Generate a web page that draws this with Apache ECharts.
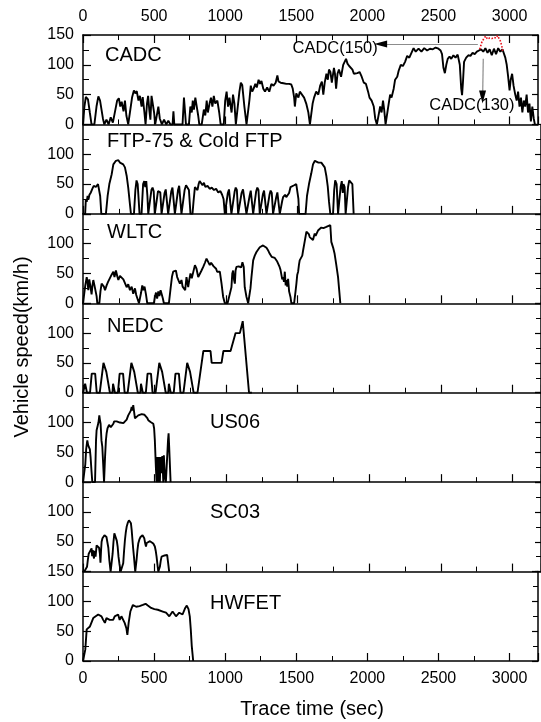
<!DOCTYPE html>
<html>
<head>
<meta charset="utf-8">
<script src="https://cdn.jsdelivr.net/npm/echarts@6/dist/echarts.min.js"></script>
<style>
  html, body { margin: 0; padding: 0; background: #fff; }
  #chart { width: 541px; height: 722px; }
</style>
</head>
<body>
<div id="chart"></div>
<script>
// speed traces, [time s, speed km/h]
const cycleNames = ['CADC', 'FTP-75 & Cold FTP', 'WLTC', 'NEDC', 'US06', 'SC03', 'HWFET'];

const cadc = [[0,0],[10,30],[20,46],[35,42],[48,20],[60,0],[80,0],[95,30],[108,47],[120,40],[140,10],[150,0],[165,8],[180,0],[195,12],[210,3],[222,0],[240,40],[252,44],[262,30],[272,38],[285,22],[295,40],[305,15],[318,0],[330,20],[345,45],[358,57],[368,52],[378,56],[390,40],[400,48],[412,30],[420,46],[432,20],[440,0],[450,35],[458,48],[466,25],[474,8],[482,48],[490,50],[500,20],[508,0],[520,0],[530,30],[540,10],[555,0],[570,8],[585,0],[600,6],[615,0],[630,0],[636,22],[642,0],[700,0],[710,45],[718,20],[724,0],[745,0],[755,30],[765,20],[772,40],[780,25],[790,45],[800,30],[810,15],[818,0],[835,0],[850,25],[860,15],[870,40],[878,20],[890,35],[900,45],[910,30],[920,48],[930,35],[945,40],[958,20],[968,0],[990,0],[1000,40],[1010,55],[1020,30],[1030,45],[1045,20],[1055,50],[1065,35],[1075,0],[1085,0],[1100,55],[1110,70],[1120,66],[1135,30],[1150,0],[1160,0],[1170,40],[1180,65],[1190,55],[1200,60],[1212,68],[1222,62],[1235,75],[1245,68],[1255,73],[1268,60],[1280,55],[1295,62],[1310,55],[1325,68],[1340,65],[1355,70],[1367,82],[1375,72],[1390,70],[1410,69],[1430,68],[1450,68],[1465,67],[1475,60],[1485,45],[1490,30],[1500,52],[1515,45],[1525,55],[1540,50],[1555,45],[1570,35],[1585,20],[1596,0],[1605,0],[1615,35],[1625,45],[1640,55],[1655,50],[1668,65],[1680,72],[1690,50],[1700,70],[1712,85],[1722,75],[1730,92],[1740,88],[1750,70],[1765,95],[1772,85],[1780,60],[1790,85],[1800,92],[1815,80],[1830,100],[1850,110],[1860,102],[1872,98],[1885,95],[1895,92],[1905,85],[1915,88],[1930,86],[1945,88],[1960,80],[1975,70],[1990,68],[2005,55],[2015,45],[2030,40],[2045,30],[2055,10],[2067,0],[2080,0],[2090,30],[2100,20],[2110,40],[2118,25],[2128,0],[2140,0],[2150,35],[2160,50],[2170,45],[2185,60],[2195,75],[2210,80],[2220,90],[2235,100],[2250,98],[2265,105],[2280,115],[2295,112],[2310,120],[2325,128],[2340,122],[2360,127],[2380,122],[2400,128],[2420,124],[2440,127],[2460,126],[2480,129],[2500,127],[2515,124],[2525,118],[2535,95],[2545,86],[2555,100],[2565,110],[2578,114],[2590,110],[2605,116],[2620,112],[2635,117],[2650,100],[2660,60],[2666,49],[2672,70],[2680,105],[2695,112],[2710,116],[2725,115],[2740,120],[2755,118],[2770,122],[2785,124],[2800,126],[2815,122],[2830,128],[2845,120],[2860,126],[2875,116],[2890,127],[2905,118],[2920,128],[2935,122],[2950,126],[2962,124],[2970,112],[2980,100],[2990,80],[3000,57],[3008,75],[3018,85],[3028,65],[3040,50],[3050,40],[3060,55],[3070,30],[3080,45],[3090,20],[3100,40],[3110,30],[3120,50],[3130,20],[3140,35],[3150,5],[3160,30],[3170,10],[3178,0]];

// motorway part of the 150 km/h variant (red dotted)
const cadc150 = [[2790,126],[2805,138],[2819,144],[2832,148],[2845,143],[2860,145],[2875,144],[2890,146],[2905,145],[2915,149],[2925,148],[2935,140],[2945,132],[2952,122]];

const ftp = [[0,0],[15,0],[20,25],[26,20],[32,30],[38,24],[45,32],[55,36],[65,42],[75,47],[90,45],[105,50],[114,50],[120,30],[128,0],[160,0],[172,30],[184,50],[200,66],[212,83],[230,89],[247,90],[258,86],[270,88],[281,83],[293,78],[305,64],[316,44],[328,16],[335,0],[356,0],[366,40],[374,56],[382,50],[395,0],[409,0],[420,50],[428,55],[435,45],[442,55],[450,30],[456,0],[468,0],[478,40],[486,44],[494,38],[502,0],[514,0],[524,38],[532,41],[540,36],[549,0],[560,0],[570,35],[578,41],[586,40],[595,0],[607,0],[617,38],[625,44],[633,42],[642,0],[654,0],[664,40],[672,47],[680,44],[688,0],[700,0],[710,40],[720,48],[730,50],[740,40],[751,0],[765,0],[772,20],[782,45],[792,48],[800,40],[808,50],[815,55],[825,52],[835,48],[845,52],[855,45],[870,47],[885,42],[900,44],[915,40],[930,42],[945,36],[960,38],[972,32],[982,25],[991,0],[1002,0],[1012,35],[1020,41],[1028,38],[1037,0],[1049,0],[1060,38],[1067,44],[1075,40],[1084,0],[1096,0],[1108,35],[1118,41],[1130,38],[1142,0],[1154,0],[1164,30],[1172,39],[1180,36],[1189,0],[1200,0],[1210,38],[1218,44],[1226,40],[1235,0],[1247,0],[1257,33],[1265,39],[1273,36],[1282,0],[1293,0],[1303,32],[1311,39],[1319,35],[1328,0],[1340,0],[1350,28],[1358,36],[1366,33],[1375,0],[1386,0],[1392,22],[1398,28],[1405,25],[1412,32],[1420,28],[1430,30],[1440,35],[1450,45],[1462,42],[1475,48],[1490,50],[1500,48],[1505,25],[1510,0],[1555,0],[1565,30],[1579,50],[1595,68],[1607,83],[1620,89],[1631,91],[1645,86],[1655,88],[1665,86],[1678,83],[1689,78],[1700,64],[1710,46],[1719,20],[1728,0],[1747,0],[1755,40],[1762,56],[1772,50],[1782,0],[1793,0],[1800,45],[1808,55],[1815,35],[1820,50],[1828,45],[1835,0],[1845,0],[1852,45],[1860,56],[1872,56],[1882,50],[1891,0]];

const wltc = [[0,0],[8,0],[16,30],[26,44],[32,35],[37,22],[44,40],[52,28],[60,15],[66,30],[72,39],[80,30],[88,27],[95,12],[100,0],[114,0],[122,20],[130,33],[138,36],[146,28],[154,22],[165,30],[175,36],[188,36],[200,48],[212,53],[220,44],[230,55],[240,45],[247,39],[258,46],[270,47],[282,40],[293,39],[305,27],[316,32],[328,22],[340,28],[351,16],[363,25],[372,14],[380,11],[391,0],[398,0],[406,18],[414,30],[422,22],[430,28],[440,15],[449,0],[495,0],[502,10],[510,18],[518,8],[526,20],[534,12],[542,22],[550,15],[558,8],[565,0],[600,0],[612,25],[622,45],[630,53],[640,50],[649,55],[658,44],[668,38],[677,33],[688,39],[696,28],[705,30],[714,22],[723,44],[735,27],[743,40],[751,50],[760,42],[770,39],[782,64],[793,58],[805,44],[816,47],[828,55],[840,61],[852,68],[863,75],[875,72],[886,64],[895,68],[905,67],[913,62],[921,61],[930,58],[937,53],[948,50],[956,53],[968,33],[979,11],[991,0],[1010,0],[1025,15],[1037,27],[1043,50],[1049,55],[1055,40],[1061,33],[1066,55],[1072,61],[1080,58],[1088,62],[1096,64],[1105,60],[1114,69],[1123,61],[1130,27],[1142,11],[1154,0],[1160,0],[1170,25],[1177,44],[1189,72],[1200,80],[1212,86],[1235,94],[1258,97],[1270,96],[1282,93],[1295,88],[1305,83],[1318,78],[1328,75],[1340,76],[1351,75],[1357,70],[1363,67],[1372,62],[1380,56],[1386,55],[1392,40],[1398,44],[1404,36],[1410,53],[1416,30],[1421,39],[1427,28],[1433,41],[1440,20],[1445,22],[1450,10],[1456,0],[1475,0],[1485,20],[1491,33],[1497,48],[1503,53],[1509,65],[1514,72],[1520,70],[1526,72],[1532,80],[1538,89],[1550,105],[1561,120],[1572,122],[1578,116],[1584,111],[1595,108],[1607,106],[1613,112],[1619,117],[1625,113],[1631,111],[1642,122],[1655,125],[1665,127],[1680,126],[1689,127],[1700,128],[1712,129],[1728,131],[1735,103],[1748,93],[1758,83],[1770,64],[1782,44],[1790,22],[1798,0]];

const nedc = [[0,0],[11,0],[15,15],[23,15],[28,0],[49,0],[61,32],[85,32],[96,0],[117,0],[143,50],[155,50],[163,35],[176,35],[188,0],[206,0],[210,15],[218,15],[223,0],[244,0],[256,32],[280,32],[291,0],[312,0],[338,50],[350,50],[358,35],[371,35],[383,0],[401,0],[405,15],[413,15],[418,0],[439,0],[451,32],[475,32],[486,0],[507,0],[533,50],[545,50],[553,35],[566,35],[578,0],[596,0],[600,15],[608,15],[613,0],[634,0],[646,32],[670,32],[681,0],[702,0],[728,50],[740,50],[748,35],[761,35],[773,0],[800,0],[841,70],[891,70],[899,50],[968,50],[981,70],[1031,70],[1066,100],[1096,100],[1116,120],[1126,120],[1160,0],[1180,0]];

const us06 = [[0,0],[10,0],[16,30],[22,55],[30,70],[36,62],[44,65],[48,55],[53,42],[59,20],[65,0],[84,0],[88,40],[91,70],[95,87],[102,84],[108,100],[114,112],[118,105],[123,98],[129,70],[135,59],[141,30],[147,0],[150,0],[154,42],[160,70],[165,82],[171,90],[177,93],[182,96],[188,96],[194,92],[200,90],[206,95],[212,98],[218,102],[223,104],[235,102],[247,101],[258,100],[270,100],[282,99],[293,101],[305,105],[316,112],[322,110],[328,115],[334,120],[340,126],[346,120],[351,129],[357,118],[363,107],[368,110],[374,110],[386,112],[398,112],[410,114],[421,115],[430,113],[440,112],[448,108],[456,104],[464,103],[472,101],[482,99],[491,98],[497,90],[502,70],[509,26],[514,0],[519,42],[526,0],[530,42],[537,0],[542,42],[549,15],[554,44],[561,0],[565,45],[572,9],[579,0],[584,0],[588,42],[594,70],[598,82],[602,60],[605,42],[612,0]];

const sc03 = [[0,0],[14,2],[22,0],[28,8],[34,20],[40,30],[46,28],[53,33],[60,39],[64,26],[68,36],[72,28],[77,22],[81,35],[84,33],[88,25],[95,44],[105,47],[112,40],[118,30],[122,15],[126,35],[130,50],[136,56],[142,58],[150,61],[158,61],[164,58],[170,58],[177,40],[184,19],[193,0],[200,0],[207,30],[213,50],[219,64],[225,63],[230,61],[236,52],[242,42],[248,25],[254,14],[263,0],[275,0],[281,14],[287,35],[293,53],[299,66],[305,75],[313,82],[321,86],[328,84],[335,81],[340,70],[344,58],[350,40],[356,25],[365,0],[370,0],[374,19],[380,35],[386,47],[394,54],[402,58],[410,60],[416,61],[422,59],[428,56],[434,48],[440,42],[445,48],[449,50],[458,51],[468,51],[478,49],[491,47],[502,42],[508,35],[514,25],[520,12],[526,0],[532,0],[537,8],[543,18],[549,25],[555,27],[561,28],[570,27],[579,28],[588,28],[592,20],[595,14],[602,0]];

const hwfet = [[0,0],[7,0],[16,19],[26,53],[37,55],[49,58],[60,61],[72,72],[84,75],[107,78],[119,78],[130,75],[142,69],[154,64],[165,72],[177,75],[188,69],[200,72],[212,69],[223,75],[247,78],[258,69],[270,75],[281,78],[293,64],[305,55],[312,44],[321,64],[333,83],[351,94],[374,91],[398,92],[421,94],[440,96],[456,93],[479,89],[502,87],[526,86],[537,89],[561,83],[584,81],[607,75],[619,72],[630,83],[642,86],[654,75],[677,81],[688,83],[700,78],[719,89],[730,93],[742,87],[751,75],[758,53],[765,25],[775,0]];

const traces = [cadc, ftp, wltc, nedc, us06, sc03, hwfet];

const chart = echarts.init(document.getElementById('chart'));

const FONT = 'Liberation Sans, Arial, sans-serif';
const top0 = 35;
const panelH = 89.43;
const labelXY = [[105, 55], [107, 141], [107, 232], [107, 326], [210, 422], [210, 512], [210, 603]];

const grids = [], xAxes = [], yAxes = [], series = [], graphics = [];

for (let i = 0; i < 7; i++) {
  grids.push({ left: 83, right: 0, top: top0 + i * panelH, height: panelH });

  xAxes.push({
    gridIndex: i, type: 'value', min: 0, max: 3200, interval: 500, position: 'bottom',
    axisLine: { show: true, onZero: false, lineStyle: { color: '#000', width: 1.5 } },
    axisTick: { inside: true, length: 8, lineStyle: { color: '#000', width: 1.2 } },
    minorTick: { show: true, splitNumber: 2, length: 5, lineStyle: { color: '#000', width: 1 } },
    axisLabel: {
      show: i === 6, margin: 10, fontSize: 16, color: '#000', fontFamily: FONT,
      formatter: v => (v % 500 === 0 ? String(v) : '')
    },
    splitLine: { show: false }
  });

  yAxes.push({
    gridIndex: i, type: 'value', min: 0, max: 150, interval: 50, position: 'left',
    axisLine: { show: true, onZero: false, lineStyle: { color: '#000', width: 1.5 } },
    axisTick: { inside: true, length: 8, lineStyle: { color: '#000', width: 1.2 } },
    minorTick: { show: true, splitNumber: 2, length: 6, lineStyle: { color: '#000', width: 1 } },
    axisLabel: {
      margin: 9, fontSize: 16, color: '#000', fontFamily: FONT,
      formatter: function (v) {
        if (v === 150 && i !== 0 && i !== 6) return '';
        if (v === 0 && i === 5) return '';
        return String(v);
      }
    },
    splitLine: { show: false }
  });

  series.push({
    type: 'line', xAxisIndex: i, yAxisIndex: i, data: traces[i],
    showSymbol: false, symbol: 'none', animation: false,
    lineStyle: { color: '#000', width: 1.9 }
  });

  graphics.push({
    type: 'text', x: labelXY[i][0], y: labelXY[i][1],
    style: { text: cycleNames[i], fontSize: 20, fontFamily: FONT, fill: '#000', verticalAlign: 'middle' }
  });
}

// right-side mirror axes
for (let i = 0; i < 7; i++) {
  yAxes.push({
    gridIndex: i, type: 'value', min: 0, max: 150, interval: 50, position: 'right',
    axisLine: { show: true, onZero: false, lineStyle: { color: '#000', width: 1.5 } },
    axisTick: { inside: true, length: 6, lineStyle: { color: '#000', width: 1.2 } },
    minorTick: { show: true, splitNumber: 2, length: 5, lineStyle: { color: '#000', width: 1 } },
    axisLabel: { show: false },
    splitLine: { show: false }
  });
}

// top axis of the first panel
xAxes.push({
  gridIndex: 0, type: 'value', min: 0, max: 3200, interval: 500, position: 'top',
  axisLine: { show: true, onZero: false, lineStyle: { color: '#000', width: 1.5 } },
  axisTick: { inside: true, length: 8, lineStyle: { color: '#000', width: 1.2 } },
  minorTick: { show: true, splitNumber: 2, length: 5, lineStyle: { color: '#000', width: 1 } },
  axisLabel: {
    margin: 10, fontSize: 16, color: '#000', fontFamily: FONT,
    formatter: v => (v % 500 === 0 ? String(v) : '')
  },
  splitLine: { show: false }
});

// annotations on the CADC panel
series[0].markLine = {
  silent: true, symbol: 'none', animation: false,
  label: { show: false },
  lineStyle: { color: '#8c8c8c', width: 1.2, type: 'solid' },
  data: [
    [{ coord: [2777, 135] }, { coord: [2100, 135] }],
    [{ coord: [2815, 110] }, { coord: [2811, 50] }]
  ]
};
series[0].markPoint = {
  silent: true, animation: false,
  data: [
    { coord: [2093, 135], symbol: 'triangle', symbolSize: [7, 13], symbolRotate: 90, itemStyle: { color: '#000' }, label: { show: false } },
    { coord: [2810, 46], symbol: 'triangle', symbolSize: [7, 13], symbolRotate: 180, itemStyle: { color: '#000' }, label: { show: false } },
    { coord: [1773, 127], symbol: 'circle', symbolSize: 1, itemStyle: { color: 'rgba(0,0,0,0)' },
      label: { show: true, position: 'inside', formatter: 'CADC(150)', fontSize: 16.5, color: '#000', fontFamily: FONT } },
    { coord: [2735, 31], symbol: 'circle', symbolSize: 1, itemStyle: { color: 'rgba(0,0,0,0)' },
      label: { show: true, position: 'inside', formatter: 'CADC(130)', fontSize: 16.5, color: '#000', fontFamily: FONT } }
  ]
};

series.push({
  type: 'line', xAxisIndex: 0, yAxisIndex: 0, data: cadc150,
  showSymbol: false, symbol: 'none', animation: false, z: 3,
  lineStyle: { color: '#e8101a', width: 1.6, type: 'dotted' }
});

graphics.push({
  type: 'text', x: 312, y: 709,
  style: { text: 'Trace time (sec)', fontSize: 20, fontFamily: FONT, fill: '#000', align: 'center', verticalAlign: 'middle' }
});
graphics.push({
  type: 'text', x: 22, y: 347, rotation: Math.PI / 2,
  style: { text: 'Vehicle speed(km/h)', fontSize: 20, fontFamily: FONT, fill: '#000', align: 'center', verticalAlign: 'middle' }
});

chart.setOption({
  animation: false,
  backgroundColor: '#fff',
  grid: grids,
  xAxis: xAxes,
  yAxis: yAxes,
  series: series,
  graphic: graphics
});

window.addEventListener('resize', function () {
  chart.resize();
});
</script>
</body>
</html>
